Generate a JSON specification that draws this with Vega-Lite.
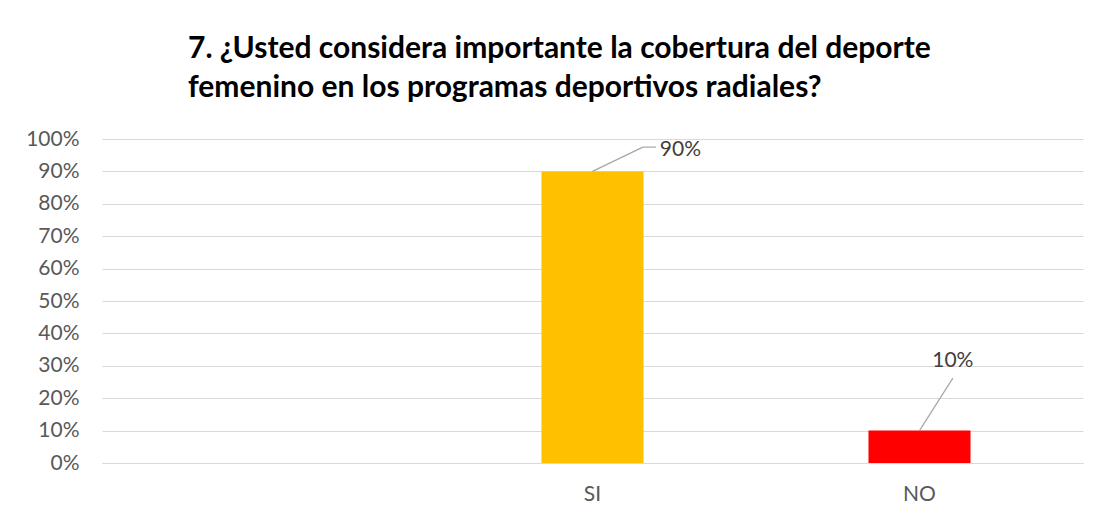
{
  "$schema": "https://vega.github.io/schema/vega-lite/v6.json",
  "width": 981,
  "height": 324,
  "autosize": {"type": "none"},
  "padding": {"left": 102, "top": 139, "right": 16, "bottom": 56},
  "background": "white",
  "title": {
    "text": ["7. ¿Usted considera importante la cobertura del deporte", "femenino en los programas deportivos radiales?"],
    "anchor": "start",
    "frame": "group",
    "dx": 86,
    "font": "Lato",
    "fontSize": 30,
    "fontWeight": "bold",
    "color": "#000000",
    "lineHeight": 39,
    "offset": 25
  },
  "data": {"values": [
    {"respuesta": "SI", "porcentaje": 0.9},
    {"respuesta": "NO", "porcentaje": 0.1}
  ]},
  "encoding": {
    "x": {
      "field": "respuesta",
      "type": "nominal",
      "scale": {"domain": [" ", "SI", "NO"], "paddingInner": 0, "paddingOuter": 0},
      "axis": {"title": null, "labelAngle": 0, "domain": true, "domainColor": "#D9D9D9", "ticks": false, "tickSize": 0, "labelPadding": 20, "grid": false}
    },
    "y": {
      "field": "porcentaje",
      "type": "quantitative",
      "scale": {"domain": [0, 1], "nice": false},
      "axis": {"title": null, "format": ".0%", "values": [0, 0.1, 0.2, 0.3, 0.4, 0.5, 0.6, 0.7, 0.8, 0.9, 1], "domain": false, "ticks": false, "tickSize": 0, "labelPadding": 23, "grid": true, "gridColor": "#D9D9D9", "gridWidth": 1}
    }
  },
  "layer": [
    {
      "mark": {"type": "bar", "width": {"band": 0.312}},
      "encoding": {
        "color": {"field": "respuesta", "type": "nominal", "scale": {"domain": ["SI", "NO"], "range": ["#FFC000", "#FF0000"]}, "legend": null}
      }
    },
    {
      "transform": [{"filter": "datum.respuesta === 'SI'"}],
      "mark": {"type": "rule", "color": "#A6A6A6", "strokeWidth": 1.2},
      "encoding": {
        "x": {"field": "respuesta", "type": "nominal", "bandPosition": 0.5},
        "x2": {"field": "respuesta", "bandPosition": 0.654},
        "y2": {"datum": 0.975}
      }
    },
    {
      "transform": [{"filter": "datum.respuesta === 'SI'"}],
      "mark": {"type": "rule", "color": "#A6A6A6", "strokeWidth": 1.2},
      "encoding": {
        "x": {"field": "respuesta", "type": "nominal", "bandPosition": 0.654},
        "x2": {"field": "respuesta", "bandPosition": 0.694},
        "y": {"datum": 0.975}
      }
    },
    {
      "transform": [{"filter": "datum.respuesta === 'SI'"}],
      "mark": {"type": "text", "align": "left", "baseline": "middle", "font": "Lato", "fontSize": 21, "color": "#404040"},
      "encoding": {
        "x": {"field": "respuesta", "type": "nominal", "bandPosition": 0.706},
        "y": {"datum": 0.966},
        "text": {"field": "porcentaje", "type": "quantitative", "format": ".0%"}
      }
    },
    {
      "transform": [{"filter": "datum.respuesta === 'NO'"}],
      "mark": {"type": "rule", "color": "#A6A6A6", "strokeWidth": 1.2},
      "encoding": {
        "x": {"field": "respuesta", "type": "nominal", "bandPosition": 0.5},
        "x2": {"field": "respuesta", "bandPosition": 0.602},
        "y2": {"datum": 0.262}
      }
    },
    {
      "transform": [{"filter": "datum.respuesta === 'NO'"}],
      "mark": {"type": "text", "align": "center", "baseline": "middle", "font": "Lato", "fontSize": 21, "color": "#404040"},
      "encoding": {
        "x": {"field": "respuesta", "type": "nominal", "bandPosition": 0.602},
        "y": {"datum": 0.315},
        "text": {"field": "porcentaje", "type": "quantitative", "format": ".0%"}
      }
    }
  ],
  "config": {
    "view": {"stroke": null},
    "axis": {"labelFont": "Lato", "labelFontSize": 21, "labelColor": "#595959"}
  }
}
